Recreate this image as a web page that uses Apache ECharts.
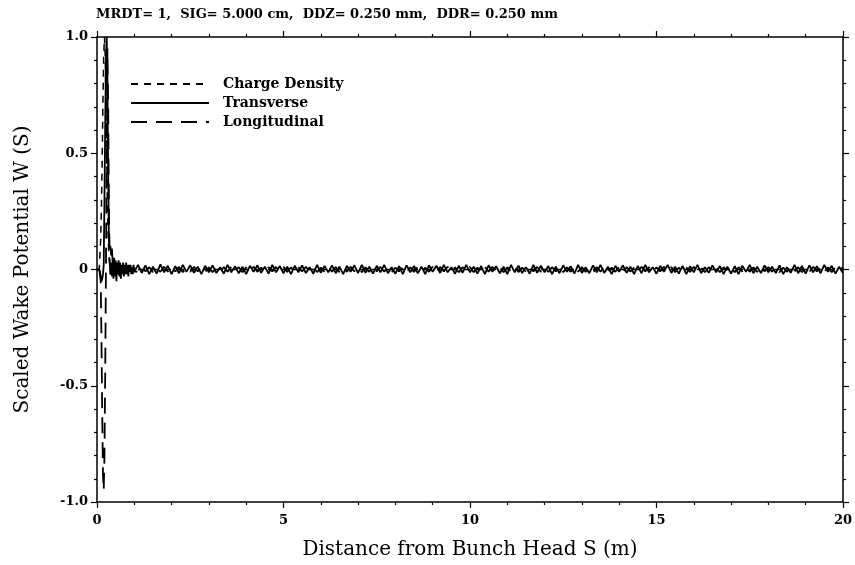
<!DOCTYPE html>
<html><head><meta charset="utf-8">
<script src="https://cdn.jsdelivr.net/npm/echarts@6/dist/echarts.min.js"></script>
<style>html,body{margin:0;padding:0;background:#fff}#c{width:855px;height:565px}</style>
</head><body><div id="c"></div>
<script>
// ---- data ----
var titleText = 'MRDT= 1,  SIG= 5.000 cm,  DDZ= 0.250 mm,  DDR= 0.250 mm';
var seriesNames = ['Charge Density', 'Transverse', 'Longitudinal'];
var yTickLabels = {'1': '1.0', '0.5': '0.5', '0': '0', '-0.5': '-0.5', '-1': '-1.0'};
// x samples: 0..1.0 m step 0.02, then 1.1..20 m step 0.1
var xNearStep = 0.02, xNearCount = 51, xTailStep = 0.1, xTailCount = 190;

var chargeNear = [0,0,0,0,0,0.135,0.28,0.49,0.73,0.92,1.0,0.92,0.73,0.49,0.28,0.135,0.056,0.02,0.006,0,
0,0,0,0,0,0,0,0,0,0,0,0,0,0,0,0,0,0,0,0,0,0,0,0,0,0,0,0,0,0,0];

var transNear = [0,0,0,0,-0.01,-0.03,-0.05,-0.04,-0.02,0.02,0.3,0.62,0.9,1.0,0.8,0.4,0.12,0.09,0.1,0.06,
0.09,0.03,-0.04,0.05,-0.03,0.04,-0.05,0.03,-0.02,0.04,-0.03,0.03,-0.04,0.02,-0.02,0.03,-0.03,0.02,-0.02,0.03,
-0.02,0.02,-0.03,0.02,-0.01,0.02,-0.02,0.01,-0.02,0.02,-0.01];

var longNear = [0,0,0,0,0,-0.05,-0.3,-0.62,-0.88,-0.95,-0.8,-0.45,0.0,0.55,0.95,0.7,0.25,0.05,-0.04,0.03,
-0.03,0.02,-0.02,0.02,-0.01,0.02,-0.015,0.01,-0.02,0.015,-0.01,0.02,-0.015,0.01,-0.012,0.015,-0.01,0.012,-0.015,0.01,
-0.012,0.01,-0.01,0.012,-0.008,0.01,-0.012,0.008,-0.01,0.01,-0.008];

var transTail = [
0.02,-0.015,0.018,-0.02,0.012,-0.018,0.022,-0.012,0.016,-0.02,
0.014,-0.016,0.02,-0.01,0.018,-0.014,0.012,-0.02,0.016,-0.012,
0.018,-0.015,0.01,-0.018,0.02,-0.012,0.014,-0.016,0.012,-0.02,
0.016,-0.01,0.018,-0.014,0.012,-0.018,0.02,-0.012,0.015,-0.016,
0.012,-0.02,0.016,-0.012,0.018,-0.015,0.01,-0.018,0.02,-0.014,
0.015,-0.012,0.018,-0.016,0.012,-0.02,0.016,-0.01,0.018,-0.015,
0.02,-0.014,0.012,-0.018,0.016,-0.012,0.02,-0.016,0.01,-0.018,
0.014,-0.02,0.018,-0.012,0.015,-0.016,0.012,-0.02,0.018,-0.01,
0.016,-0.015,0.02,-0.012,0.01,-0.018,0.016,-0.014,0.02,-0.012,
0.012,-0.018,0.015,-0.02,0.018,-0.01,0.014,-0.016,0.012,-0.02,
0.02,-0.012,0.016,-0.015,0.01,-0.018,0.02,-0.014,0.016,-0.012,
0.015,-0.02,0.012,-0.016,0.018,-0.01,0.014,-0.018,0.02,-0.015,
0.01,-0.016,0.018,-0.012,0.02,-0.015,0.012,-0.02,0.016,-0.01,
0.018,-0.014,0.012,-0.02,0.015,-0.016,0.02,-0.012,0.01,-0.018,
0.016,-0.01,0.02,-0.015,0.012,-0.018,0.016,-0.02,0.014,-0.012,
0.02,-0.016,0.01,-0.014,0.018,-0.012,0.015,-0.02,0.012,-0.018,
0.014,-0.02,0.016,-0.01,0.02,-0.016,0.012,-0.015,0.018,-0.012,
0.012,-0.015,0.018,-0.02,0.01,-0.014,0.02,-0.016,0.015,-0.018,
0.018,-0.012,0.014,-0.016,0.02,-0.01,0.016,-0.018,0.012,-0.015];

var longTail = [
-0.01,0.012,-0.008,0.01,-0.012,0.008,-0.01,0.012,-0.009,0.01,
-0.008,0.011,-0.012,0.008,-0.01,0.012,-0.008,0.01,-0.011,0.009,
-0.012,0.008,-0.01,0.011,-0.009,0.012,-0.008,0.01,-0.012,0.009,
-0.009,0.012,-0.01,0.008,-0.012,0.01,-0.008,0.011,-0.01,0.012,
-0.011,0.009,-0.012,0.01,-0.008,0.012,-0.01,0.009,-0.011,0.008,
-0.01,0.012,-0.009,0.011,-0.012,0.008,-0.01,0.012,-0.008,0.01,
-0.012,0.009,-0.01,0.012,-0.008,0.011,-0.009,0.01,-0.012,0.008,
-0.008,0.01,-0.012,0.009,-0.011,0.012,-0.01,0.008,-0.01,0.012,
-0.01,0.011,-0.008,0.012,-0.01,0.009,-0.012,0.01,-0.008,0.011,
-0.012,0.008,-0.01,0.011,-0.009,0.012,-0.01,0.008,-0.012,0.01,
-0.009,0.012,-0.011,0.008,-0.01,0.012,-0.008,0.011,-0.01,0.009,
-0.011,0.01,-0.008,0.012,-0.012,0.009,-0.01,0.012,-0.009,0.01,
-0.01,0.008,-0.012,0.011,-0.009,0.01,-0.012,0.008,-0.01,0.012,
-0.012,0.01,-0.009,0.008,-0.011,0.012,-0.008,0.01,-0.012,0.009,
-0.008,0.012,-0.01,0.011,-0.012,0.008,-0.01,0.009,-0.011,0.012,
-0.01,0.009,-0.012,0.01,-0.008,0.011,-0.012,0.01,-0.009,0.008,
-0.012,0.01,-0.008,0.012,-0.01,0.009,-0.011,0.012,-0.008,0.01,
-0.009,0.011,-0.012,0.008,-0.01,0.012,-0.009,0.01,-0.012,0.011,
-0.01,0.012,-0.008,0.01,-0.011,0.009,-0.012,0.01,-0.008,0.01];

// ---- build ----
function build(near, tail) {
  var out = [];
  for (var i = 0; i < xNearCount; i++) out.push([+(i * xNearStep).toFixed(2), near[i]]);
  for (var j = 0; j < xTailCount; j++) out.push([+(1 + (j + 1) * xTailStep).toFixed(2), tail ? tail[j] : 0]);
  return out;
}
var font = 'DejaVu Serif';
var chart = echarts.init(document.getElementById('c'), null, {renderer: 'canvas'});
var axisLine = {show: true, onZero: false, lineStyle: {color: '#000', width: 1.5}};
var tick = {show: true, inside: false, length: 6, lineStyle: {color: '#000', width: 1.2}};
var minor = {show: true, splitNumber: 5, length: 3, lineStyle: {color: '#000', width: 1.2}};
var xCommon = {type: 'value', min: 0, max: 20, interval: 5, splitLine: {show: false}, axisLine: axisLine, axisTick: tick, minorTick: minor};
var yCommon = {type: 'value', min: -1, max: 1, interval: 0.5, splitLine: {show: false}, axisLine: axisLine, axisTick: tick, minorTick: minor};
chart.setOption({
  animation: false,
  backgroundColor: '#fff',
  title: {text: titleText, left: 91, top: 3, textStyle: {fontFamily: font, fontSize: 13, fontWeight: 'bold', color: '#000'}},
  grid: {left: 97, right: 12, top: 37, bottom: 62},
  legend: {
    orient: 'vertical', left: 125, top: 72, itemWidth: 78, itemHeight: 12, itemGap: 5,
    itemStyle: {opacity: 0},
    textStyle: {fontFamily: font, fontSize: 14, fontWeight: 'bold', color: '#000', lineHeight: 14, padding: [0, 0, 0, 9]},
    data: seriesNames
  },
  xAxis: [
    Object.assign({}, xCommon, {position: 'bottom',
      name: 'Distance from Bunch Head S (m)', nameLocation: 'middle', nameGap: 38,
      nameTextStyle: {fontFamily: font, fontSize: 20, color: '#000'},
      axisLabel: {fontFamily: font, fontSize: 13, fontWeight: 'bold', color: '#000', margin: 12}}),
    Object.assign({}, xCommon, {position: 'top', axisLabel: {show: false}})
  ],
  yAxis: [
    Object.assign({}, yCommon, {position: 'left',
      name: 'Scaled Wake Potential W (S)', nameLocation: 'middle', nameGap: 64,
      nameTextStyle: {fontFamily: font, fontSize: 20, color: '#000'},
      axisLabel: {fontFamily: font, fontSize: 13, fontWeight: 'bold', color: '#000', margin: 9,
        formatter: function (v) { var k = String(+v.toFixed(2)); return yTickLabels[k] !== undefined ? yTickLabels[k] : ''; }}}),
    Object.assign({}, yCommon, {position: 'right', axisLabel: {show: false}})
  ],
  series: [
    {name: seriesNames[0], type: 'line', showSymbol: false, symbol: 'none', data: build(chargeNear, null),
      lineStyle: {color: '#000', width: 1.5, type: [7, 6]}, itemStyle: {color: '#000'}},
    {name: seriesNames[2], type: 'line', showSymbol: false, symbol: 'none', data: build(longNear, longTail),
      lineStyle: {color: '#000', width: 1.8, type: [16, 9]}, itemStyle: {color: '#000'}},
    {name: seriesNames[1], type: 'line', showSymbol: false, symbol: 'none', data: build(transNear, transTail),
      lineStyle: {color: '#000', width: 1.8, type: 'solid'}, itemStyle: {color: '#000'}}
  ]
});
</script></body></html>
